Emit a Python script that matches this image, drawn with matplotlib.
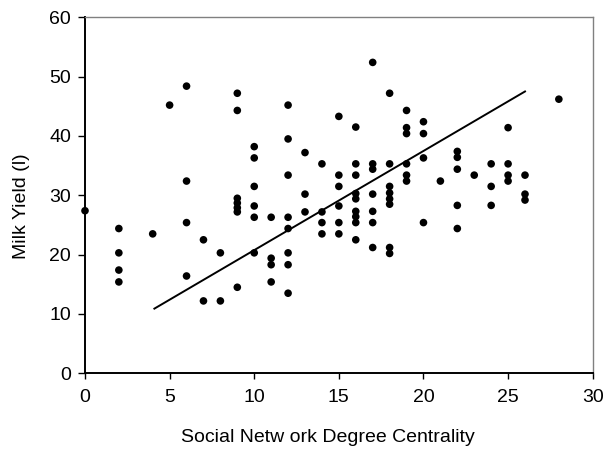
import matplotlib
matplotlib.use("Agg")
import matplotlib.pyplot as plt

degree = [0,
          2, 2, 2, 2,
          4,
          5,
          6, 6, 6, 6,
          7, 7,
          8, 8,
          9, 9, 9, 9, 9, 9, 9,
          10, 10, 10, 10, 10, 10,
          11, 11, 11, 11,
          12, 12, 12, 12, 12, 12, 12, 12,
          13, 13, 13,
          14, 14, 14, 14,
          15, 15, 15, 15, 15, 15,
          16, 16, 16, 16, 16, 16, 16, 16, 16,
          17, 17, 17, 17, 17, 17, 17,
          18, 18, 18, 18, 18, 18, 18, 18,
          19, 19, 19, 19, 19, 19,
          20, 20, 20, 20,
          21,
          22, 22, 22, 22, 22,
          23,
          24, 24, 24,
          25, 25, 25, 25,
          26, 26, 26,
          28]
milk = [27.4,
        24.4, 20.3, 17.4, 15.4,
        23.5,
        45.2,
        48.4, 32.4, 25.4, 16.4,
        22.5, 12.2,
        20.3, 12.2,
        47.2, 44.3, 29.5, 28.7, 27.9, 27.2, 14.5,
        38.2, 36.3, 31.5, 28.2, 26.3, 20.3,
        26.3, 19.4, 18.3, 15.4,
        45.2, 39.5, 33.4, 26.3, 24.4, 20.3, 18.3, 13.5,
        37.2, 30.2, 27.2,
        35.3, 27.2, 25.4, 23.5,
        43.3, 33.4, 31.5, 28.2, 25.4, 23.5,
        41.5, 35.3, 33.4, 30.3, 29.4, 27.3, 26.4, 25.4, 22.5,
        52.4, 35.3, 34.4, 30.2, 27.3, 25.4, 21.2,
        47.2, 35.3, 31.5, 30.4, 29.4, 28.5, 21.2, 20.2,
        44.3, 41.4, 40.4, 35.3, 33.4, 32.4,
        42.4, 40.4, 36.3, 25.4,
        32.4,
        37.4, 36.4, 34.4, 28.3, 24.4,
        33.4,
        35.3, 31.5, 28.3,
        41.4, 35.3, 33.4, 32.4,
        33.4, 30.2, 29.2,
        46.2]

fit_x = [4.1, 26.0]
fit_y = [10.9, 47.5]

x_ticks = [0, 5, 10, 15, 20, 25, 30]
y_ticks = [0, 10, 20, 30, 40, 50, 60]

plt.rcParams['font.family'] = ['Liberation Sans', 'DejaVu Sans']

fig = plt.figure(figsize=(6.03, 4.54), dpi=100)
ax = fig.add_axes([85/603, 80.7/454, (592.7-85)/603, (373.3-17.3)/454])

ax.scatter(degree, milk, s=30, color='black', edgecolors='none', zorder=3, clip_on=False)
ax.plot(fit_x, fit_y, color='black', lw=1.4, zorder=2)

ax.set_xlim(0, 30)
ax.set_ylim(0, 60)
ax.set_xticks(x_ticks)
ax.set_yticks(y_ticks)
ax.tick_params(axis='x', direction='out', length=4, width=1, labelsize=14, pad=7, color='black')
ax.tick_params(axis='y', direction='out', length=5, width=1, labelsize=14, pad=5, color='black')

for s in ['left', 'bottom']:
    ax.spines[s].set_color('black')
    ax.spines[s].set_linewidth(1.4)
for s in ['top', 'right']:
    ax.spines[s].set_color('#808080')
    ax.spines[s].set_linewidth(1.0)

ax.set_xlabel('Social Netw ork Degree Centrality', fontsize=14)
ax.set_ylabel('Milk Yield (l)', fontsize=14)
ax.xaxis.set_label_coords(0.478, -0.157)
ax.yaxis.set_label_coords(-0.108, 0.47)

fig.savefig('out.png', dpi=100)
